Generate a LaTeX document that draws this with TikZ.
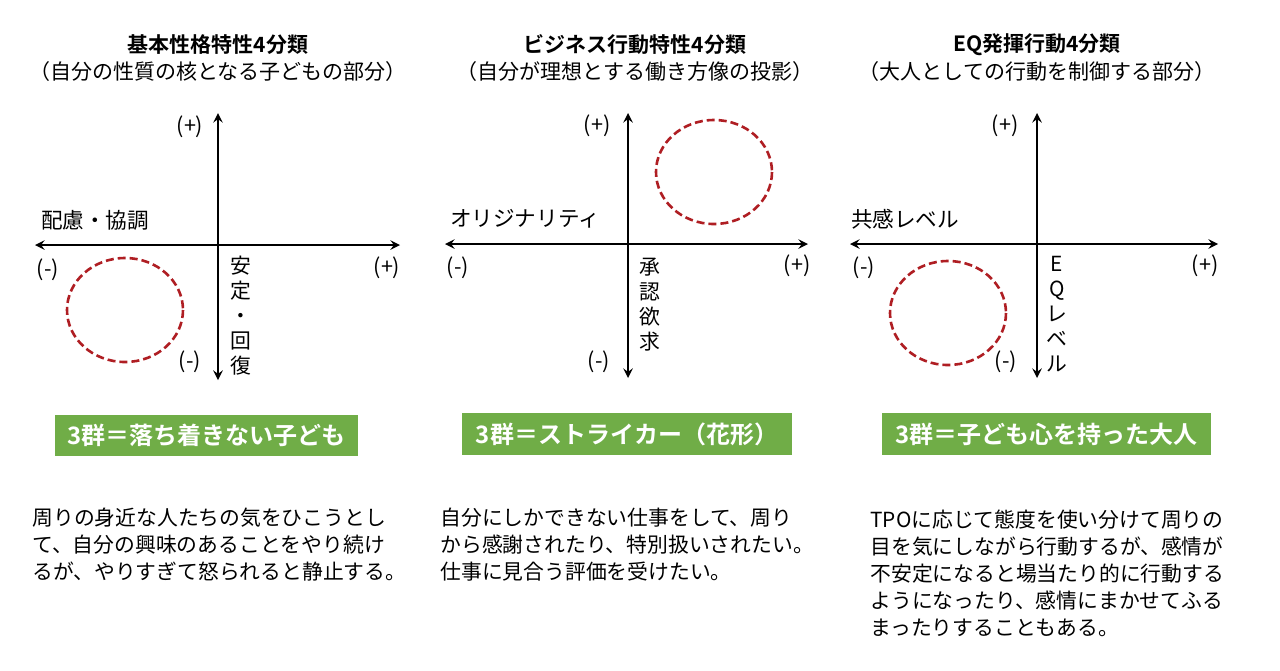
\documentclass[tikz,border=0pt]{standalone}
\usepackage{fontspec}
\setmainfont{Noto Sans CJK JP}[BoldFont={Noto Sans CJK JP Bold}]
\definecolor{grn}{RGB}{112,173,71}
\definecolor{dred}{RGB}{175,30,35}
\begin{document}
\begin{tikzpicture}[x=0.5pt,y=-0.5pt,
  ax/.style={line width=1.1pt,<->,>=stealth},
  ring/.style={draw=dred,line width=1.3pt,dash pattern=on 4pt off 2pt},
  lab/.style={font=\fontsize{10.8}{12}\selectfont,inner sep=0pt},
  ttl/.style={font=\fontsize{10.5}{12}\selectfont\bfseries,inner sep=0pt},
  sub/.style={font=\fontsize{10.5}{12}\selectfont,inner sep=0pt},
  gbox/.style={fill=grn,text=white,font=\fontsize{12}{14}\selectfont\bfseries,inner sep=0pt},
  body/.style={font=\fontsize{10.4}{13.5}\selectfont,align=left,anchor=north west,inner sep=0pt},
  vert/.style={font=\fontsize{10.4}{12.5}\selectfont,align=center,anchor=north,inner sep=0pt}]
\useasboundingbox (0,0) rectangle (1280,670);
% Panel 1
\node[ttl] (t1) at (218,45) {基本性格特性4分類};
\node[sub] (s1) at (218,72) {（自分の性質の核となる子どもの部分）};
\coordinate (a1t) at (218,113); \coordinate (a1b) at (218,380);
\coordinate (a1l) at (35,245); \coordinate (a1r) at (400,245);
\draw[ax] (a1t) -- (a1b); \draw[ax] (a1l) -- (a1r);
\draw[ring] (125,310) ellipse (58 and 52);
\node[lab] (p1a) at (190,127) {(+)};
\node[lab] (l1) at (95,220) {配慮・協調};
\node[lab] (m1a) at (48,270) {(-)};
\node[lab] (p1b) at (387,268) {(+)};
\node[vert] (v1) at (241,256) {安\\定\\・\\回\\復};
\node[lab] (m1b) at (190,362) {(-)};
\node[gbox,minimum width=151.5pt,minimum height=20.5pt] (g1) at (206.5,435.5) {3群＝落ち着きない子ども};
\node[body] (b1) at (32,508) {周りの身近な人たちの気をひこうとし\\て、自分の興味のあることをやり続け\\るが、やりすぎて怒られると静止する。};
% Panel 2
\node[ttl] (t2) at (635,45) {ビジネス行動特性4分類};
\node[sub] (s2) at (635,72) {（自分が理想とする働き方像の投影）};
\coordinate (a2t) at (628,113); \coordinate (a2b) at (628,378);
\coordinate (a2l) at (445,244); \coordinate (a2r) at (808,244);
\draw[ax] (a2t) -- (a2b); \draw[ax] (a2l) -- (a2r);
\draw[ring] (714,172) ellipse (58 and 52);
\node[lab] (p2a) at (597,126) {(+)};
\node[lab] (l2) at (525,219) {オリジナリティ};
\node[lab] (m2a) at (458,268) {(-)};
\node[lab] (p2b) at (797,266) {(+)};
\node[vert] (v2) at (650,258) {承\\認\\欲\\求};
\node[lab] (m2b) at (599,362) {(-)};
\node[gbox,minimum width=165pt,minimum height=21pt] (g2) at (627,434) {3群＝ストライカー（花形）};
\node[body] (b2) at (440,508) {自分にしかできない仕事をして、周り\\から感謝されたり、特別扱いされたい。\\仕事に見合う評価を受けたい。};
% Panel 3
\node[ttl] (t3) at (1037,45) {EQ発揮行動4分類};
\node[sub] (s3) at (1037,72) {（大人としての行動を制御する部分）};
\coordinate (a3t) at (1037,113); \coordinate (a3b) at (1037,378);
\coordinate (a3l) at (850,244); \coordinate (a3r) at (1218,244);
\draw[ax] (a3t) -- (a3b); \draw[ax] (a3l) -- (a3r);
\draw[ring] (948,313) ellipse (58 and 52);
\node[lab] (p3a) at (1005,126) {(+)};
\node[lab] (l3) at (905,219) {共感レベル};
\node[lab] (m3a) at (864,268) {(-)};
\node[lab] (p3b) at (1205,266) {(+)};
\node[vert] (v3) at (1057,256) {E\\Q\\レ\\ベ\\ル};
\node[lab] (m3b) at (1006,362) {(-)};
\node[gbox,minimum width=164.5pt,minimum height=21pt] (g3) at (1046.5,434) {3群＝子ども心を持った大人};
\node[body] (b3) at (870,510) {TPOに応じて態度を使い分けて周りの\\目を気にしながら行動するが、感情が\\不安定になると場当たり的に行動する\\ようになったり、感情にまかせてふる\\まったりすることもある。};
\end{tikzpicture}
\end{document}
